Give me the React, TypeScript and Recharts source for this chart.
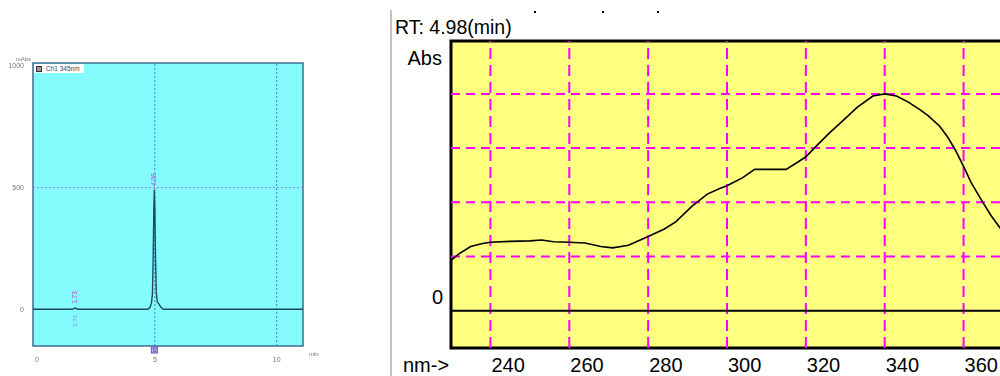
import React from "react";
import {
  LineChart,
  Line,
  XAxis,
  YAxis,
  CartesianGrid,
  ReferenceLine,
  ReferenceArea,
  ReferenceDot,
  Legend,
} from "recharts";

// ---- Chromatogram (left panel) ----
const channelName = "Ch1 345nm";
const chromTimes = [
  0, 1.5, 1.65, 1.7, 1.73, 1.77, 1.85, 4.6, 4.72, 4.8, 4.86, 4.9, 4.93, 4.96,
  4.98, 5.0, 5.03, 5.06, 5.1, 5.18, 5.25, 5.35, 11.08,
];
const chromSignal = [
  0, 0, 1, 4, 6, 3, 0, 0, 0, 8, 25, 60, 200, 420, 490, 420, 200, 70, 30, 20, 8,
  0, 0,
];
const chromTimeTicks = [0, 5, 10];
const chromSignalTicks = [0, 500, 1000];
const peakTimes = [1.73, 4.98];
const peakLabels = ["1.73", "4.98"];

// ---- UV spectrum at RT 4.98 min (right panel) ----
const retentionLabel = "RT: 4.98(min)";
const wavelengths = [
  230, 232, 235, 238, 240, 245, 250, 253, 256, 260, 264, 268, 271, 275, 280,
  284, 287, 291, 295, 298, 300, 304, 307, 315, 318, 320, 323, 326, 329, 333,
  337, 340, 343, 346, 349, 351, 354, 356, 358, 360, 362, 365, 367, 369.5,
];
const absorbance = [
  116, 131, 148, 155, 158, 160, 161, 163, 159, 158, 156, 148, 145, 151, 171,
  188, 205, 240, 269, 281, 288, 307, 326, 326, 343, 355, 383, 410, 435, 469,
  495, 500, 495, 481, 463, 450, 425, 400, 369, 333, 294, 248, 219, 188,
];
const wavelengthTicks = [240, 260, 280, 300, 320, 340, 360];
const absGridLevels = [125, 250, 375, 500];

const chromData = chromTimes.map((t, i) => ({ t, mAbs: chromSignal[i] }));
const spectrumData = wavelengths.map((nm, i) => ({ nm, abs: absorbance[i] }));

const sans = "'Liberation Sans', Arial, sans-serif";
const chromDomainX: [number, number] = [0, 11.08];
const chromDomainY: [number, number] = [-151, 1012];
const specDomainX: [number, number] = [230, 370];
const specDomainY: [number, number] = [-86, 622];

const ChannelLegend = () => (
  <div
    style={{
      display: "flex",
      alignItems: "center",
      background: "#ffffff",
      height: 9,
      padding: "0 4px 0 2px",
      fontSize: 6.5,
      lineHeight: "9px",
      color: "#445",
      fontFamily: sans,
      whiteSpace: "nowrap",
    }}
  >
    <span
      style={{
        display: "inline-block",
        width: 4,
        height: 4,
        border: "1px solid #333",
        background: "#999",
        marginRight: 4,
      }}
    />
    <span>{channelName}</span>
  </div>
);

const ChromXTick = (props: any) => {
  const { x, y, payload, index } = props;
  return (
    <text x={x + (index === 0 ? 4 : 0)} y={y + 4} fontSize={7} fontFamily={sans} fill="#777" textAnchor="middle">
      {payload.value}
    </text>
  );
};

const SpecXTick = (props: any) => {
  const { x, y, payload } = props;
  return (
    <text x={x + 1} y={y + 24} fontSize={20} fontFamily={sans} fill="#000" textAnchor="start">
      {payload.value}
    </text>
  );
};

const SpecYTick = (props: any) => {
  const { x, y, payload } = props;
  return (
    <text x={x} y={y - 7} fontSize={20} fontFamily={sans} fill="#000" textAnchor="end">
      {payload.value}
    </text>
  );
};

export default function App() {
  return (
    <div
      style={{
        position: "fixed",
        left: 0,
        top: 0,
        width: 1000,
        height: 376,
        overflow: "hidden",
        background: "#ffffff",
      }}
    >
      {/* Chromatogram */}
      <div style={{ position: "absolute", left: 0, top: 0, filter: "blur(0.7px)" }}>
        <LineChart
          width={330}
          height={376}
          data={chromData}
          margin={{ top: 63, right: 27, bottom: 0, left: 0 }}
        >
          <CartesianGrid fill="#84fbfd" strokeOpacity={0} />
          <XAxis
            dataKey="t"
            type="number"
            domain={chromDomainX}
            ticks={chromTimeTicks}
            height={30}
            tickLine={false}
            axisLine={false}
            tickMargin={6}
            tick={<ChromXTick />}
            label={(p: any) => {
              const vb = p.viewBox;
              return (
                <text x={vb.x + vb.width + 6} y={vb.y + 10} fontSize={6} fill="#777" fontFamily={sans}>
                  min
                </text>
              );
            }}
          />
          <YAxis
            type="number"
            domain={chromDomainY}
            ticks={chromSignalTicks}
            width={33}
            tickLine={false}
            axisLine={false}
            tickMargin={3}
            tick={{ fontSize: 7, fill: "#777", fontFamily: sans }}
            label={(p: any) => {
              const vb = p.viewBox;
              return (
                <text x={vb.x + vb.width - 2} y={vb.y - 2} fontSize={6} fill="#777" fontFamily={sans} textAnchor="end">
                  mAbs
                </text>
              );
            }}
          />
          <ReferenceLine y={500} stroke="#8a84e4" strokeDasharray="2 2" />
          <ReferenceLine x={5} stroke="#4f70e0" strokeDasharray="2 2" />
          <ReferenceLine x={10} stroke="#4f70e0" strokeDasharray="2 2" />
          <ReferenceLine
            x={peakTimes[1]}
            stroke="none"
            label={(p: any) => {
              const vb = p.viewBox;
              const bx = vb.x;
              const by = vb.y + vb.height;
              return (
                <g>
                  <rect x={bx - 3} y={by + 1} width={6} height={6} fill="#b6a8f4" stroke="#6a50c8" strokeWidth={1} />
                  <text x={bx} y={by + 6} fontSize={5} fill="#4030a0" textAnchor="middle" fontFamily={sans}>
                    S
                  </text>
                </g>
              );
            }}
          />
          <ReferenceArea
            x1={chromDomainX[0]}
            x2={chromDomainX[1]}
            y1={chromDomainY[0]}
            y2={chromDomainY[1]}
            fill="none"
            stroke="#3f6d90"
            strokeWidth={1.5}
            ifOverflow="visible"
          />
          <Line
            dataKey="mAbs"
            type="linear"
            stroke="#1e4c5a"
            strokeWidth={1.4}
            dot={false}
            isAnimationActive={false}
          />
          {peakTimes.map((pt, i) => (
            <ReferenceDot
              key={pt}
              x={pt}
              y={i === 1 ? 490 : 6}
              r={0}
              stroke="none"
              fill="none"
              label={(p: any) => {
                const vb = p.viewBox;
                const cx = vb.x + (vb.width || 0) / 2;
                const cy = vb.y + (vb.height || 0) / 2;
                return (
                  <g>
                    <text
                      x={cx + 2}
                      y={cy - 4}
                      fontSize={6.5}
                      fill="#c048d8"
                      fontFamily={sans}
                      transform={`rotate(-90 ${cx + 2} ${cy - 4})`}
                    >
                      {peakLabels[i]}
                    </text>
                    {i === 0 ? (
                      <text
                        x={cx + 2}
                        y={cy + 19}
                        fontSize={6}
                        fill="#8a8ad8"
                        fontFamily={sans}
                        transform={`rotate(-90 ${cx + 2} ${cy + 19})`}
                      >
                        {peakLabels[i]}
                      </text>
                    ) : null}
                  </g>
                );
              }}
            />
          ))}
          <Legend
            layout="horizontal"
            verticalAlign="middle"
            align="center"
            content={() => <ChannelLegend />}
            wrapperStyle={{ position: "absolute", left: 34, top: 64, width: "auto", height: "auto" }}
          />
        </LineChart>
      </div>

      {/* Panel divider */}
      <div
        style={{ position: "absolute", left: 390, top: 10, width: 2, height: 366, background: "#c4c4c4" }}
      />
      {[534, 602, 657].map((x) => (
        <div key={x} style={{ position: "absolute", left: x, top: 11, width: 2, height: 2, background: "#000" }} />
      ))}

      {/* UV spectrum */}
      <div style={{ position: "absolute", left: 390, top: 0 }}>
        <LineChart
          width={613}
          height={376}
          data={spectrumData}
          margin={{ top: 41, right: 0, bottom: 0, left: 0 }}
        >
          <CartesianGrid fill="#ffff80" strokeOpacity={0} />
          <XAxis
            dataKey="nm"
            type="number"
            domain={specDomainX}
            ticks={wavelengthTicks}
            height={28}
            tickLine={false}
            axisLine={false}
            tickSize={0}
            tickMargin={0}
            tick={<SpecXTick />}
            label={(p: any) => {
              const vb = p.viewBox;
              return (
                <text x={vb.x - 48} y={vb.y + 24} fontSize={20} fontFamily={sans} fill="#000">
                  nm-&gt;
                </text>
              );
            }}
          />
          <YAxis
            type="number"
            domain={specDomainY}
            ticks={[0]}
            width={61}
            tickLine={false}
            axisLine={false}
            tickSize={0}
            tickMargin={8}
            tick={<SpecYTick />}
            label={(p: any) => {
              const vb = p.viewBox;
              return (
                <g>
                  <text x={vb.x + vb.width - 9} y={vb.y + 24} fontSize={20} fontFamily={sans} fill="#000" textAnchor="end">
                    Abs
                  </text>
                  <text x={vb.x + 5} y={vb.y - 7} fontSize={19.5} fontFamily={sans} fill="#000">
                    {retentionLabel}
                  </text>
                </g>
              );
            }}
          />
          {absGridLevels.map((v) => (
            <ReferenceLine key={`h${v}`} y={v} stroke="#ff00ff" strokeWidth={2} strokeDasharray="9 6" />
          ))}
          {wavelengthTicks.map((v) => (
            <ReferenceLine key={`v${v}`} x={v} stroke="#ff00ff" strokeWidth={2} strokeDasharray="11 6" />
          ))}
          <ReferenceLine y={0} stroke="#000" strokeWidth={2} />
          <ReferenceArea
            x1={specDomainX[0]}
            x2={specDomainX[1]}
            y1={specDomainY[0]}
            y2={specDomainY[1]}
            fill="none"
            stroke="#000"
            strokeWidth={3}
            ifOverflow="visible"
          />
          <Line
            dataKey="abs"
            type="linear"
            stroke="#000"
            strokeWidth={1.6}
            dot={false}
            isAnimationActive={false}
          />
        </LineChart>
      </div>
    </div>
  );
}
